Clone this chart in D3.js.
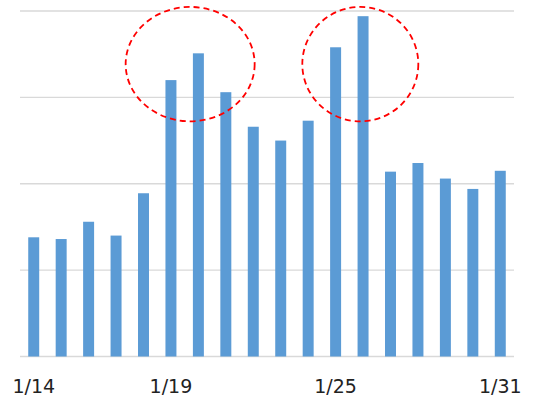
<!DOCTYPE html>
<html>
<head>
<meta charset="utf-8">
<script src="https://cdn.jsdelivr.net/npm/d3@7"></script>
<style>
html,body{margin:0;padding:0;background:#fff;}
svg{display:block;}
</style>
</head>
<body>
<svg id="chart" width="534" height="400"></svg>
<script>
const categories = ["1/14","1/15","1/16","1/17","1/18","1/19","1/20","1/21","1/22","1/23","1/24","1/25","1/26","1/27","1/28","1/29","1/30","1/31"];
const values = [138,136,156,140,189,320,351,306,266,250,273,358,394,214,224,206,194,215];
const tickLabels = ["1/14","1/19","1/25","1/31"];
const gridValues = [0,100,200,300,400];
// highlighted peaks: ellipse centred around the given category (band offset in steps)
const highlights = [{cat: "1/20", shift: -0.3, rx: 64.5}, {cat: "1/25", shift: 0.9, rx: 58}];

(function(){
const svg = d3.select("#chart");
const mLeft = 20, mRight = 514, mTop = 11, mBottom = 356.5;

const x = d3.scaleBand().domain(categories).range([mLeft, mRight]).paddingInner(0.6).paddingOuter(0.3);
const y = d3.scaleLinear().domain([0, 400]).range([mBottom, mTop]);

svg.append("g").selectAll("line").data(gridValues).join("line")
  .attr("x1", mLeft).attr("x2", mRight)
  .attr("y1", d => y(d)).attr("y2", d => y(d))
  .attr("stroke", "#d9d9d9").attr("stroke-width", 1.3);

svg.append("g").selectAll("rect").data(values).join("rect")
  .attr("x", (d,i) => x(categories[i]))
  .attr("width", x.bandwidth())
  .attr("y", d => y(d))
  .attr("height", d => y(0) - y(d))
  .attr("fill", "#5b9bd5");

const xAxis = d3.axisBottom(x).tickValues(tickLabels).tickSize(0).tickPadding(0);
const ax = svg.append("g").attr("transform", `translate(0,${mBottom})`).call(xAxis);
ax.select(".domain").remove();
ax.selectAll("text")
  .attr("dy", null).attr("y", 36)
  .attr("font-family", "'DejaVu Sans', Verdana, sans-serif")
  .attr("font-size", 19).attr("fill", "#222");

highlights.forEach(h => {
  const cx = x(h.cat) + x.bandwidth()/2 + h.shift * x.step();
  svg.append("ellipse")
    .attr("cx", cx).attr("cy", y(338.5))
    .attr("rx", h.rx).attr("ry", 57.2)
    .attr("fill", "none").attr("stroke", "#ff0000")
    .attr("stroke-width", 1.8).attr("stroke-dasharray", "6,4");
});
})();
</script>
</body>
</html>
